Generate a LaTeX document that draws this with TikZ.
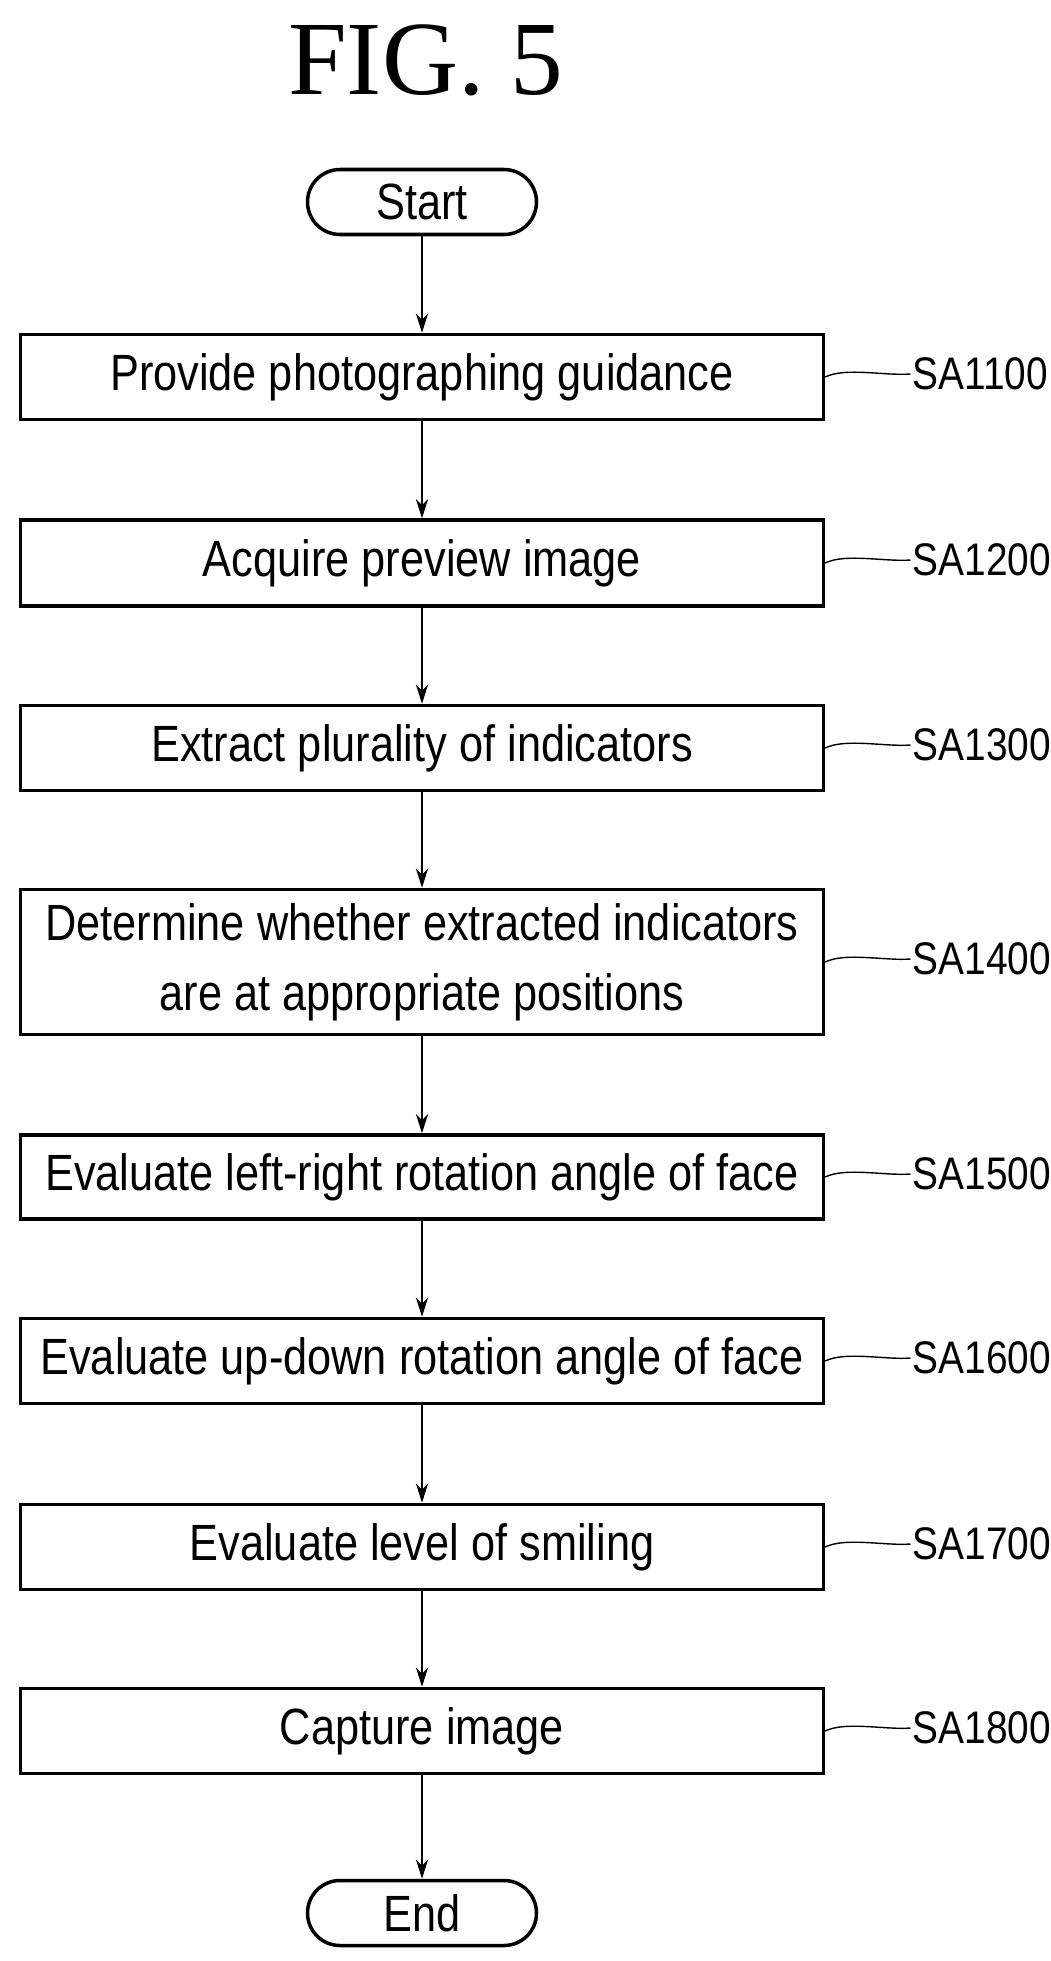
\documentclass[tikz,border=0pt]{standalone}
\usepackage{fontspec}
\setmainfont{Liberation Sans}[FakeStretch=0.85]
\newfontfamily\titlefont{Liberation Serif}
\usetikzlibrary{arrows.meta}
\begin{document}
\begin{tikzpicture}[x=0.02cm,y=-0.02cm,
  stepbox/.style={draw,line width=2pt,minimum width=803*0.02cm,align=center,font=\fontsize{29}{40}\selectfont,inner sep=0pt},
  term/.style={draw,line width=2pt,rounded corners=0.65cm,minimum width=229*0.02cm,minimum height=65*0.02cm,font=\fontsize{29}{34}\selectfont,inner sep=0pt},
  arr/.style={line width=1pt,-{Stealth[length=11pt,width=7pt]}},
  lab/.style={font=\fontsize{26}{30}\selectfont,anchor=west,inner sep=0pt}]
\useasboundingbox (0,0) rectangle (1051,1961);
\node[font=\titlefont\fontsize{60}{64}\selectfont] (title) at (426,60) {FIG. 5};
\node[term] (s) at (422,202) {Start};
\node[stepbox,minimum height=85*0.02cm] (b1) at (422,377) {Provide photographing guidance};
\node[stepbox,minimum height=86*0.02cm] (b2) at (422,563) {Acquire preview image};
\node[stepbox,minimum height=85*0.02cm] (b3) at (422,748) {Extract plurality of indicators};
\node[stepbox,minimum height=145*0.02cm] (b4) at (422,962) {Determine whether extracted indicators\\are at appropriate positions};
\node[stepbox,minimum height=84*0.02cm] (b5) at (422,1177) {Evaluate left-right rotation angle of face};
\node[stepbox,minimum height=85*0.02cm] (b6) at (422,1361) {Evaluate up-down rotation angle of face};
\node[stepbox,minimum height=85*0.02cm] (b7) at (422,1547) {Evaluate level of smiling};
\node[stepbox,minimum height=85*0.02cm] (b8) at (422,1731) {Capture image};
\node[term] (e) at (422,1913) {End};
\foreach \a/\b in {s/b1,b1/b2,b2/b3,b3/b4,b4/b5,b5/b6,b6/b7,b7/b8,b8/e}
  \draw[arr] (\a.south) -- (\b.north);
\foreach \b/\t in {b1/SA1100,b2/SA1200,b3/SA1300,b4/SA1400,b5/SA1500,b6/SA1600,b7/SA1700,b8/SA1800}{
  \node[lab] (l\b) at ([xshift=87*0.02cm,yshift=3*0.02cm]\b.east) {\t};
  \draw[line width=0.8pt] (\b.east) .. controls +(20,-10) and +(-25,2) .. ([xshift=-1pt]l\b.west);
}
\end{tikzpicture}
\end{document}
